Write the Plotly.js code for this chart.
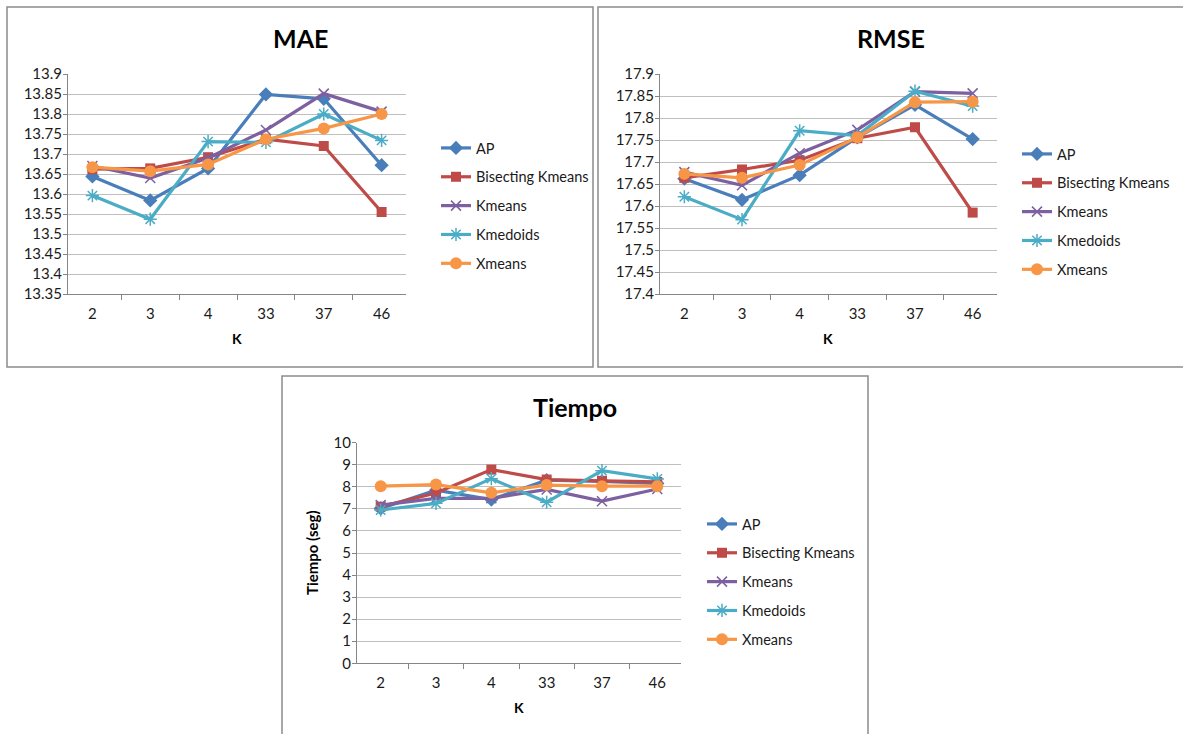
<!DOCTYPE html>
<html>
<head>
<meta charset="utf-8">
<script src="https://cdn.plot.ly/plotly-3.0.1.min.js"></script>
<style>html,body{margin:0;padding:0;background:#fff;}#chart{width:1183px;height:734px;}</style>
</head>
<body>
<div id="chart"></div>
<script>
// ---- data ----
var categories = ['2', '3', '4', '33', '37', '46'];
var seriesNames = ['AP', 'Bisecting Kmeans', 'Kmeans', 'Kmedoids', 'Xmeans'];

var maeAP       = [13.644, 13.584, 13.664, 13.849, 13.838, 13.672];
var maeBisect   = [13.662, 13.664, 13.692, 13.737, 13.720, 13.555];
var maeKmeans   = [13.670, 13.640, 13.690, 13.760, 13.851, 13.806];
var maeKmedoids = [13.596, 13.537, 13.731, 13.729, 13.800, 13.734];
var maeXmeans   = [13.667, 13.657, 13.674, 13.737, 13.764, 13.800];

var rmseAP       = [17.662, 17.614, 17.670, 17.756, 17.830, 17.752];
var rmseBisect   = [17.664, 17.683, 17.704, 17.754, 17.779, 17.585];
var rmseKmeans   = [17.677, 17.647, 17.720, 17.773, 17.860, 17.856];
var rmseKmedoids = [17.621, 17.569, 17.771, 17.760, 17.861, 17.827];
var rmseXmeans   = [17.673, 17.664, 17.693, 17.756, 17.836, 17.837];

var timeAP       = [7.02, 7.85, 7.42, 8.30, 8.25, 8.15];
var timeBisect   = [7.10, 7.72, 8.78, 8.33, 8.27, 8.22];
var timeKmeans   = [7.17, 7.48, 7.48, 7.88, 7.35, 7.90];
var timeKmedoids = [6.95, 7.25, 8.37, 7.30, 8.73, 8.36];
var timeXmeans   = [8.03, 8.10, 7.73, 8.08, 8.03, 8.03];

var maeTicks  = [13.35, 13.4, 13.45, 13.5, 13.55, 13.6, 13.65, 13.7, 13.75, 13.8, 13.85, 13.9];
var rmseTicks = [17.4, 17.45, 17.5, 17.55, 17.6, 17.65, 17.7, 17.75, 17.8, 17.85, 17.9];
var timeTicks = [0, 1, 2, 3, 4, 5, 6, 7, 8, 9, 10];

// ---- styles ----
var W = 1183, H = 734;
var FONT = 'Lato, "Noto Sans", sans-serif';
var styles = [
  {line: '#4A7EBB', marker: {symbol: 'diamond', size: 11, color: '#4A7EBB'}},
  {line: '#BE4B48', marker: {symbol: 'square', size: 10, color: '#BE4B48'}},
  {line: '#7D60A0', marker: {symbol: 'x-thin-open', size: 10, color: '#7D60A0', line: {width: 1.5, color: '#7D60A0'}}},
  {line: '#4BACC6', marker: {symbol: 'asterisk-open', size: 11, color: '#4BACC6', line: {width: 1.5, color: '#4BACC6'}}},
  {line: '#F79646', marker: {symbol: 'circle', size: 12, color: '#F79646'}}
];

function px(x) { return x / W; }
function py(y) { return 1 - y / H; }

var panels = [
  {data: [maeAP, maeBisect, maeKmeans, maeKmedoids, maeXmeans], xa: 'x', ya: 'y', legend: 'legend'},
  {data: [rmseAP, rmseBisect, rmseKmeans, rmseKmedoids, rmseXmeans], xa: 'x2', ya: 'y2', legend: 'legend2'},
  {data: [timeAP, timeBisect, timeKmeans, timeKmedoids, timeXmeans], xa: 'x3', ya: 'y3', legend: 'legend3'}
];

var traces = [];
panels.forEach(function (p, pi) {
  p.data.forEach(function (vals, si) {
    traces.push({
      type: 'scatter', mode: 'lines+markers',
      x: categories, y: vals, name: seriesNames[si],
      xaxis: p.xa, yaxis: p.ya, legend: p.legend,
      legendgroup: 'g' + pi + '_' + si,
      line: {color: styles[si].line, width: 3.2},
      marker: styles[si].marker,
      cliponaxis: false
    });
  });
});

function xaxisDef(x0, x1, anchor) {
  return {
    domain: [px(x0), px(x1)], anchor: anchor, type: 'category',
    showgrid: false, showline: true, linecolor: '#868686', linewidth: 1,
    ticks: 'outside', tickson: 'boundaries', ticklen: 5, tickcolor: '#868686',
    ticklabelstandoff: 6,
    tickfont: {family: FONT, size: 15, color: '#1a1a1a'}, fixedrange: true, zeroline: false
  };
}
function yaxisDef(y0, y1, anchor, range, ticks) {
  return {
    domain: [py(y1), py(y0)], anchor: anchor, range: range,
    tickvals: ticks, ticktext: ticks.map(String),
    showgrid: true, gridcolor: '#BFBFBF', gridwidth: 1,
    showline: true, linecolor: '#868686', linewidth: 1,
    ticks: 'outside', ticklen: 4, tickcolor: '#868686',
    ticklabelstandoff: -2,
    tickfont: {family: FONT, size: 15, color: '#1a1a1a'}, zeroline: false, fixedrange: true
  };
}

function legendDef(x, yTop) {
  return {
    x: px(x), y: py(yTop), xanchor: 'left', yanchor: 'top',
    font: {family: FONT, size: 14.5, color: '#1a1a1a'},
    bgcolor: 'rgba(0,0,0,0)', borderwidth: 0,
    traceorder: 'grouped', tracegroupgap: 7, itemwidth: 30
  };
}

function ann(text, x, y, size, bold, extra) {
  var a = {
    text: bold ? '<b>' + text + '</b>' : text, x: px(x), y: py(y),
    xref: 'paper', yref: 'paper', showarrow: false,
    xanchor: 'center', yanchor: 'middle',
    font: {family: FONT, size: size, color: '#000'}
  };
  for (var k in extra) a[k] = extra[k];
  return a;
}

var layout = {
  width: W, height: H,
  margin: {l: 0, r: 0, t: 0, b: 0},
  paper_bgcolor: '#fff', plot_bgcolor: '#fff',
  showlegend: true,
  xaxis:  xaxisDef(68, 406, 'y'),
  yaxis:  yaxisDef(74, 294, 'x', [13.35, 13.9], maeTicks),
  xaxis2: xaxisDef(660, 997, 'y2'),
  yaxis2: yaxisDef(74, 294, 'x2', [17.4, 17.9], rmseTicks),
  xaxis3: xaxisDef(357, 681, 'y3'),
  yaxis3: yaxisDef(442.7, 663.3, 'x3', [0, 10], timeTicks),
  legend:  legendDef(436, 132),
  legend2: legendDef(1017, 138),
  legend3: legendDef(702, 508),
  shapes: [
    {type: 'rect', xref: 'paper', yref: 'paper', x0: px(7), x1: px(593), y0: py(367), y1: py(7), line: {color: '#8C8C8C', width: 1.5}},
    {type: 'rect', xref: 'paper', yref: 'paper', x0: px(598), x1: px(1190), y0: py(367), y1: py(7), line: {color: '#8C8C8C', width: 1.5}},
    {type: 'rect', xref: 'paper', yref: 'paper', x0: px(282), x1: px(868), y0: py(740), y1: py(376), line: {color: '#8C8C8C', width: 1.5}}
  ],
  annotations: [
    ann('MAE', 300, 38, 25, true),
    ann('RMSE', 891, 38, 25, true),
    ann('Tiempo', 575, 407, 25, true),
    ann('K', 237, 338, 14, true),
    ann('K', 828, 338, 14, true),
    ann('K', 519, 707, 14, true),
    ann('Tiempo (seg)', 312, 553, 15, true, {textangle: -90})
  ]
};

Plotly.newPlot('chart', traces, layout, {displayModeBar: false, staticPlot: true});
</script>
</body>
</html>
